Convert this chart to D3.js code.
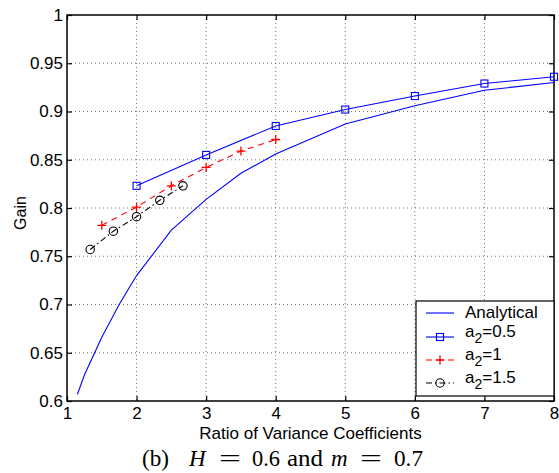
<!DOCTYPE html>
<html>
<head>
<meta charset="utf-8">
<script src="https://cdn.jsdelivr.net/npm/d3@7"></script>
<style>
  body { margin: 0; background: #fff; }
  svg { display: block; }
</style>
</head>
<body>
<div class="chart"></div>
<script>
var xTicks = [1, 2, 3, 4, 5, 6, 7, 8];
var yTicks = [0.6, 0.65, 0.7, 0.75, 0.8, 0.85, 0.9, 0.95, 1];

var analyticalX = [1.15, 1.25, 1.5, 1.75, 2, 2.5, 3, 3.5, 4, 5, 6, 7, 8];
var analyticalY = [0.607, 0.627, 0.666, 0.700, 0.730, 0.777, 0.809, 0.836, 0.856, 0.887, 0.906, 0.922, 0.930];

var a05X = [2, 3, 4, 5, 6, 7, 8];
var a05Y = [0.823, 0.855, 0.885, 0.902, 0.916, 0.929, 0.936];

var a1X = [1.5, 2, 2.5, 3, 3.5, 4];
var a1Y = [0.782, 0.801, 0.823, 0.842, 0.859, 0.871];

var a15X = [4/3, 5/3, 2, 7/3, 8/3];
var a15Y = [0.757, 0.776, 0.791, 0.808, 0.823];

var legendLabels = ['Analytical', '=0.5', '=1', '=1.5'];

function init() {
  var width = 559,
      height = 473,
      left = 67,
      right = 554,
      top = 15,
      bottom = 401,
      tickLen = 5,
      font = '"Liberation Sans", Arial, Helvetica, sans-serif';

  var x = d3.scaleLinear().domain([1, 8]).range([left, right]);
  var y = d3.scaleLinear().domain([0.6, 1]).range([bottom, top]);

  var svg = d3.select('.chart')
    .append('svg')
      .attr('width', width)
      .attr('height', height);

  // dotted grid
  var grid = svg.append('g');
  grid.selectAll('line.gx')
    .data(xTicks.slice(1, -1))
    .enter().append('line')
      .attr('x1', function(d) { return x(d); })
      .attr('x2', function(d) { return x(d); })
      .attr('y1', top)
      .attr('y2', bottom)
      .attr('stroke', '#555')
      .attr('stroke-width', 0.8)
      .attr('stroke-dasharray', '1,3');
  grid.selectAll('line.gy')
    .data(yTicks.slice(1, -1))
    .enter().append('line')
      .attr('y1', function(d) { return y(d); })
      .attr('y2', function(d) { return y(d); })
      .attr('x1', left)
      .attr('x2', right)
      .attr('stroke', '#555')
      .attr('stroke-width', 0.8)
      .attr('stroke-dasharray', '1,3');

  // axes, inward ticks on every side
  var xBottom = d3.axisBottom(x).tickValues(xTicks).tickSize(-tickLen).tickPadding(6)
    .tickFormat(d3.format('d'));
  var xTop = d3.axisTop(x).tickValues(xTicks).tickSize(-tickLen).tickFormat('');
  var yLeft = d3.axisLeft(y).tickValues(yTicks).tickSize(-tickLen).tickPadding(4)
    .tickFormat(function(d) { return String(+d.toFixed(2)); });
  var yRight = d3.axisRight(y).tickValues(yTicks).tickSize(-tickLen).tickFormat('');

  function styleAxis(g) {
    g.select('.domain').remove();
    g.selectAll('.tick line').attr('stroke', '#000').attr('stroke-width', 1.2);
    g.selectAll('.tick text').attr('fill', '#000').style('font-size', '17px')
      .style('font-family', font);
  }

  svg.append('g').attr('transform', 'translate(0,' + bottom + ')').call(xBottom).call(styleAxis);
  svg.append('g').attr('transform', 'translate(0,' + top + ')').call(xTop).call(styleAxis);
  svg.append('g').attr('transform', 'translate(' + left + ',0)').call(yLeft).call(styleAxis);
  svg.append('g').attr('transform', 'translate(' + right + ',0)').call(yRight).call(styleAxis);

  svg.append('rect')
      .attr('x', left)
      .attr('y', top)
      .attr('width', right - left)
      .attr('height', bottom - top)
      .attr('fill', 'none')
      .attr('stroke', '#000')
      .attr('stroke-width', 1.5);

  var line = d3.line()
    .x(function(d) { return x(d[0]); })
    .y(function(d) { return y(d[1]); });

  function zip(xs, ys) {
    return xs.map(function(v, i) { return [v, ys[i]]; });
  }

  var series = [
    {data: zip(analyticalX, analyticalY), color: '#0000ff', dash: null, marker: null},
    {data: zip(a05X, a05Y), color: '#0000ff', dash: null, marker: 'square'},
    {data: zip(a1X, a1Y), color: '#ff0000', dash: '6,5', marker: 'plus'},
    {data: zip(a15X, a15Y), color: '#000000', dash: '6,3,1.5,3', marker: 'circle'}
  ];

  function drawMarker(g, kind, color, cx, cy) {
    if (kind === 'square') {
      g.append('rect')
          .attr('x', cx - 3.5).attr('y', cy - 3.5)
          .attr('width', 7).attr('height', 7)
          .attr('fill', 'none').attr('stroke', color).attr('stroke-width', 1.1);
    } else if (kind === 'plus') {
      g.append('path')
          .attr('d', 'M' + (cx - 4.5) + ',' + cy + 'H' + (cx + 4.5) +
                     'M' + cx + ',' + (cy - 4.5) + 'V' + (cy + 4.5))
          .attr('stroke', color).attr('stroke-width', 1.3);
    } else if (kind === 'circle') {
      g.append('circle')
          .attr('cx', cx).attr('cy', cy).attr('r', 4.2)
          .attr('fill', 'none').attr('stroke', color).attr('stroke-width', 1.1);
    }
  }

  var plot = svg.append('g');
  series.forEach(function(s) {
    plot.append('path')
        .datum(s.data)
        .attr('d', line)
        .attr('fill', 'none')
        .attr('stroke', s.color)
        .attr('stroke-width', 1.1)
        .attr('stroke-dasharray', s.dash);
    if (s.marker) {
      s.data.forEach(function(d) {
        drawMarker(plot, s.marker, s.color, x(d[0]), y(d[1]));
      });
    }
  });

  // legend
  var lx = 416, ly = 301, lh = 95;
  var legend = svg.append('g');
  legend.append('rect')
      .attr('x', lx).attr('y', ly)
      .attr('width', right - lx).attr('height', lh)
      .attr('fill', '#fff').attr('stroke', '#000').attr('stroke-width', 1.2);

  var rowY = [313, 337, 360, 383];
  series.forEach(function(s, i) {
    var ry = rowY[i];
    legend.append('line')
        .attr('x1', 426).attr('x2', 454)
        .attr('y1', ry).attr('y2', ry)
        .attr('stroke', s.color).attr('stroke-width', 1.1)
        .attr('stroke-dasharray', s.dash);
    if (s.marker) drawMarker(legend, s.marker, s.color, 440, ry);
    var t = legend.append('text')
        .attr('x', 465)
        .attr('y', ry + 5)
        .style('font-family', font)
        .style('font-size', '17px');
    if (i === 0) {
      t.text(legendLabels[0]);
    } else {
      t.attr('y', ry);
      t.append('tspan').text('a');
      t.append('tspan').attr('dy', 6).style('font-size', '14px').text('2');
      t.append('tspan').attr('dy', -6).text(legendLabels[i]);
    }
  });

  // axis labels
  svg.append('text')
      .attr('x', (left + right) / 2)
      .attr('y', 439)
      .attr('text-anchor', 'middle')
      .style('font-family', font)
      .style('font-size', '17px')
      .text('Ratio of Variance Coefficients');

  svg.append('text')
      .attr('transform', 'translate(26,213) rotate(-90)')
      .attr('text-anchor', 'middle')
      .style('font-family', font)
      .style('font-size', '16px')
      .text('Gain');

  // caption, pieces placed like the LaTeX original; only "=" gets widened
  var capFont = '"Liberation Serif", "Times New Roman", serif';
  var pieces = [
    {t: '(b)', x: 142, w: 27, it: false},
    {t: 'H', x: 189, w: null, it: true},
    {t: '=', x: 219, w: 22, it: false},
    {t: '0.6', x: 252, w: 28, it: false},
    {t: 'and', x: 287, w: 36, it: false},
    {t: 'm', x: 331, w: null, it: true},
    {t: '=', x: 360, w: 22, it: false},
    {t: '0.7', x: 394, w: 29, it: false}
  ];
  svg.append('g').selectAll('text')
    .data(pieces)
    .enter().append('text')
      .attr('x', function(d) { return d.x; })
      .attr('y', 466)
      .style('font-family', capFont)
      .style('font-size', '23px')
      .style('font-style', function(d) { return d.it ? 'italic' : 'normal'; })
      .attr('textLength', function(d) { return d.w; })
      .attr('lengthAdjust', 'spacingAndGlyphs')
      .text(function(d) { return d.t; });
}

d3.select(window).on('load', init);
</script>
</body>
</html>
